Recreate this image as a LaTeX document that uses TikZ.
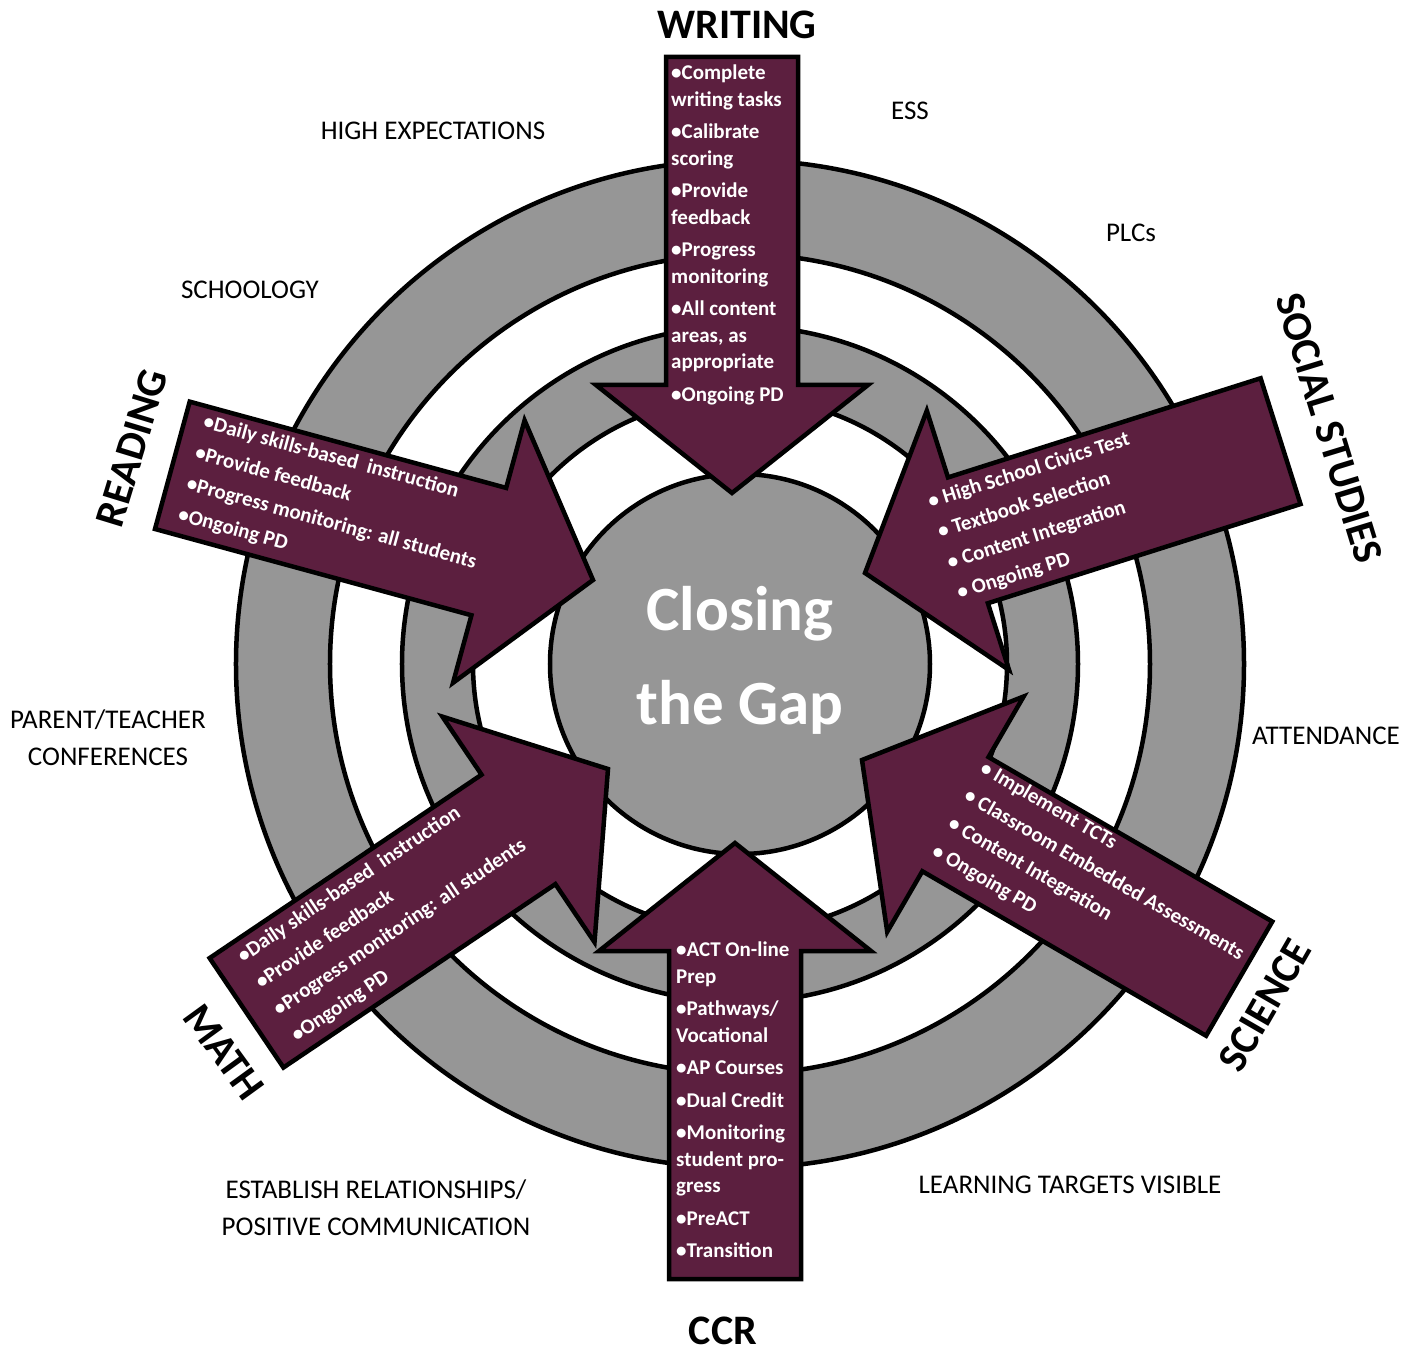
\documentclass[tikz,border=0pt]{standalone}
\usepackage{fontspec}
\setmainfont{Carlito}
\usepackage{xcolor}
\usepackage{tikz}

\definecolor{maroon}{RGB}{92,31,63}
\definecolor{ringgray}{RGB}{150,150,150}

\begin{document}
\begin{tikzpicture}[x=1pt, y=1pt,
  ring/.style={fill=ringgray, draw=black, line width=4.5pt, even odd rule},
  goal/.style={fill=maroon, draw=black, line width=4.5pt, line join=miter},
  items/.style={font=\bfseries\fontsize{21}{32}\selectfont, text=white, align=left,
                inner sep=0pt, anchor=north west},
  colitems/.style={items, font=\bfseries\fontsize{21}{26.5}\selectfont},
  subject/.style={font=\bfseries\fontsize{42}{50}\selectfont, inner sep=0pt},
  support/.style={font=\fontsize{27}{37}\selectfont, align=center, inner sep=0pt},
  goalarrow/.pic={\draw[goal] (0,0) -- (-108,136) -- (-108,66) -- (-436,66)
                   -- (-436,-66) -- (-108,-66) -- (-108,-136) -- cycle;}]
  \useasboundingbox (-740,-685) rectangle (675,664);

  % rings and hub
  \path[ring] (0,0) circle (504) circle (410);
  \path[ring] (0,0) circle (338) circle (267);
  \node[circle, fill=ringgray, draw=black, line width=4.5pt, minimum size=380, inner sep=0pt] (hub) at (0,0) {};

  % writing (down) and ccr (up)
  \pic[rotate=-90] at (-8,171) {goalarrow};
  \node[colitems] (writing list) at (-69,599) {•Complete\\writing tasks\\[6pt]•Calibrate\\scoring\\[6pt]•Provide\\feedback\\[6pt]•Progress\\monitoring\\[6pt]•All content\\areas, as\\appropriate\\[6pt]•Ongoing PD};
  \pic[rotate=90] at (-5,-179) {goalarrow};
  \node[colitems] (ccr list) at (-64,-278) {•ACT On-line\\Prep\\[6pt]•Pathways/\\Vocational\\[6pt]•AP Courses\\[6pt]•Dual Credit\\[6pt]•Monitoring\\student pro-\\gress\\[6pt]•PreACT\\[6pt]•Transition};

  % reading
  \begin{scope}[shift={(-147,84)}, rotate=-15.25, transform shape]
    \pic at (0,0) {goalarrow};
    \node[items] (reading list) at (-417,59) {•Daily skills-based\ \ instruction\\•Provide feedback\\•Progress monitoring: all students\\•Ongoing PD};
  \end{scope}

  % math
  \begin{scope}[shift={(-132,-105)}, rotate=34, transform shape]
    \pic at (0,0) {goalarrow};
    \node[items] (math list) at (-411,58) {•Daily skills-based\ \ instruction\\•Provide feedback\\•Progress monitoring: all students\\•Ongoing PD};
  \end{scope}

  % social studies
  \begin{scope}[shift={(125,91)}, rotate=197.6, transform shape]
    \pic at (0,0) {goalarrow};
    \node[items, rotate=180] (social list) at (-82,-57) {• High School Civics Test\\• Textbook Selection\\• Content Integration\\• Ongoing PD};
  \end{scope}

  % science
  \begin{scope}[shift={(122,-96)}, rotate=149.9, transform shape]
    \pic at (0,0) {goalarrow};
    \node[items, rotate=180] (science list) at (-107,-63) {• Implement TCTs\\• Classroom Embedded Assessments\\• Content Integration\\• Ongoing PD};
  \end{scope}

  \node[font=\bfseries\fontsize{63}{94}\selectfont, text=white, align=center, inner sep=0pt] (gap) at (0,4) {Closing\\the Gap};

  % subject titles
  \node[subject] (writing) at (-3,639) {WRITING};
  \node[subject] (ccr) at (-17,-667) {CCR};
  \node[subject, rotate=73] (reading) at (-608,216) {READING};
  \node[subject, rotate=-73] (social) at (589,236) {SOCIAL STUDIES};
  \node[subject, rotate=60] (science) at (525,-341) {SCIENCE};
  \node[subject, rotate=-54] (math) at (-516,-388) {MATH};

  % supports around the rings
  \node[support] (expect) at (-307,533) {HIGH EXPECTATIONS};
  \node[support] (ess) at (170,553) {ESS};
  \node[support] (plc) at (391,431) {PLCs};
  \node[support] (schoology) at (-490,374) {SCHOOLOGY};
  \node[support] (conf) at (-632,-74) {PARENT/TEACHER\\CONFERENCES};
  \node[support] (attend) at (586,-72) {ATTENDANCE};
  \node[support] (relations) at (-364,-544) {ESTABLISH RELATIONSHIPS/\\POSITIVE COMMUNICATION};
  \node[support] (targets) at (330,-521) {LEARNING TARGETS VISIBLE};
\end{tikzpicture}
\end{document}
